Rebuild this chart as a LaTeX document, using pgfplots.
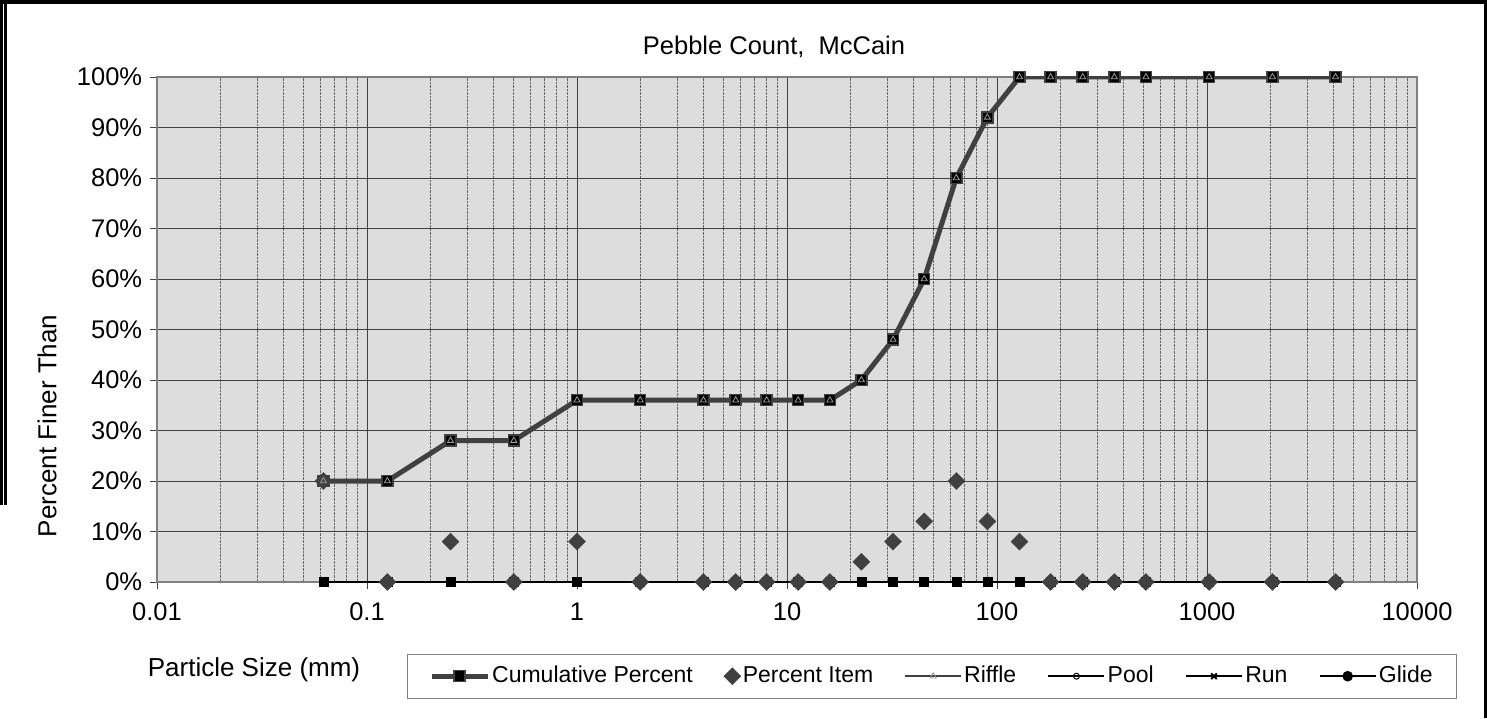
\documentclass[border=0pt]{standalone}
\usepackage{pgfplots}
\pgfplotsset{compat=1.18}
\usepackage{fontspec}
\setmainfont{Liberation Sans}

\definecolor{plotbg}{HTML}{DDDDDD}
\definecolor{dk}{HTML}{404040}

% size classes (mm), cumulative percent, percent item
\pgfplotstableread{
size   cum  item zero
0.062  20   20   0
0.125  20   0    0
0.25   28   8    0
0.5    28   0    0
1      36   8    0
2      36   0    0
4      36   0    0
5.7    36   0    0
8      36   0    0
11.3   36   0    0
16     36   0    0
22.6   40   4    0
32     48   8    0
45     60   12   0
64     80   20   0
90     92   12   0
128    100  8    0
180    100  0    0
256    100  0    0
362    100  0    0
512    100  0    0
1024   100  0    0
2048   100  0    0
4096   100  0    0
}\pebbles

\begin{document}
\fontsize{23}{27}\selectfont
\begin{tikzpicture}[x=1pt,y=1pt]
\path[use as bounding box] (0,0) rectangle (1487,718);
% outer frame
\fill[black] (0,714) rectangle (1487,718);
\fill[black] (0,213) rectangle (2.7,718);
\fill[black] (4,213) rectangle (6.7,718);
\fill[black] (1484,0) rectangle (1487,718);
\begin{axis}[
    at={(157pt,136pt)}, anchor=south west,
    scale only axis, width=1260pt, height=505pt,
    /pgf/number format/assume math mode=true,
    xmode=log, xmin=0.01, xmax=10000,
    ymin=0, ymax=100,
    xtick={0.01,0.1,1,10,100,1000,10000},
    xticklabels={0.01,0.1,1,10,100,1000,10000},
    ytick={0,10,...,100},
    yticklabels={0\%,10\%,20\%,30\%,40\%,50\%,60\%,70\%,80\%,90\%,100\%},
    tick label style={font=\fontsize{25.5}{29}\selectfont},
    xticklabel style={yshift=-6pt},
    tick align=outside,
    major tick length=7pt, minor tick length=0pt,
    tick style={dk, line width=0.8pt},
    xtick pos=bottom, ytick pos=left,
    grid=both,
    major grid style={dk, line width=0.8pt},
    minor grid style={dk!80, densely dotted, line width=0.6pt},
    axis background/.style={fill=plotbg},
    axis line style={draw=gray, line width=2pt},
    title={Pebble Count,\ \ McCain},
    title style={font=\fontsize{25.5}{29}\selectfont,
        at={(axis description cs:0.4897,1.0317)}, anchor=base},
    xlabel={Particle Size (mm)},
    xlabel style={font=\fontsize{26}{30}\selectfont,
        at={(axis description cs:0.077,-0.1881)}, anchor=base},
    ylabel={Percent Finer Than},
    ylabel style={font=\fontsize{26}{30}\selectfont,
        at={(axis description cs:-0.0873,0.309)}, anchor=center},
    legend columns=6,
    legend image code/.code={%
        \draw[mark repeat=2,mark phase=2] plot coordinates {(0pt,0pt) (28pt,0pt) (56pt,0pt)};},
    legend style={at={(axis description cs:0.1984,-0.1426)}, anchor=north west,
        draw=gray, fill=white,
        font=\fontsize{23}{27}\selectfont,
        inner xsep=22pt, inner ysep=9pt,
        nodes={inner sep=2pt, text height=17pt, text depth=5pt},
        /tikz/every even column/.append style={column sep=29pt}},
]
% zero line shared by Pool, Run and Glide
\addplot[forget plot, black, line width=3pt, mark=square*,
    mark options={fill=black, draw=black, line width=0.5pt}, mark size=4.5pt]
    table[x=size, y=zero] {\pebbles};

\addplot[dk, line width=5pt, mark=square*,
    mark options={fill=black, draw=dk, line width=1.5pt}, mark size=5.5pt]
    table[x=size, y=cum] {\pebbles};
\addlegendentry{Cumulative Percent}

\addplot[only marks, mark=square*, mark size=6pt,
    mark options={rotate=45, fill=dk, draw=dk}]
    table[x=size, y=item] {\pebbles};
\addlegendentry{Percent Item}

\addplot[dk, line width=2pt, mark=triangle, mark size=3.5pt,
    mark options={draw=gray!80, line width=0.8pt}]
    table[x=size, y=cum] {\pebbles};
\addlegendentry{Riffle}

\addlegendimage{black, line width=2.5pt, mark=o, mark size=3pt, mark options={fill=white, line width=1pt}}
\addlegendentry{Pool}
\addlegendimage{black, line width=2.5pt, mark=x, mark size=4pt, mark options={line width=2pt}}
\addlegendentry{Run}
\addlegendimage{black, line width=2.5pt, mark=*, mark size=4pt}
\addlegendentry{Glide}
\end{axis}
\end{tikzpicture}
\end{document}
